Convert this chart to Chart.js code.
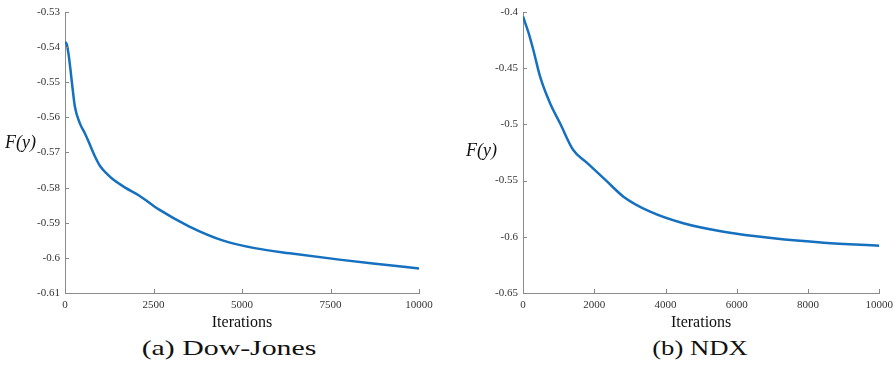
<!DOCTYPE html>
<html>
<head>
<meta charset="utf-8">
<script src="https://cdn.jsdelivr.net/npm/chart.js@4/dist/chart.umd.min.js"></script>
<style>
  html, body { margin: 0; padding: 0; background: #fff; }
  #wrap { position: relative; width: 895px; height: 370px; overflow: hidden; background: #fff; }
  canvas { position: absolute; top: 0; }
  .ylab { position: absolute; font-family: "Liberation Serif", serif; font-style: italic; font-size: 18px; color: #111; white-space: nowrap; transform: translateY(-50%); }
  .cap { position: absolute; font-family: "Liberation Serif", serif; font-size: 21px; color: #111; white-space: nowrap; }
</style>
</head>
<body>
<div id="wrap">
  <canvas id="c1" width="445" height="335" style="left:0px"></canvas>
  <canvas id="c2" width="454" height="335" style="left:445px"></canvas>
  <div class="ylab" style="left:5px; top:142px;">F(y)</div>
  <div class="ylab" style="left:466px; top:150px;">F(y)</div>
  <div class="cap" style="left:229px; top:348px; transform: translate(-50%, -50%) scaleX(1.42);">(a) Dow-Jones</div>
  <div class="cap" style="left:700px; top:348px; transform: translate(-50%, -50%) scaleX(1.27);">(b) NDX</div>
</div>
<script>
// ---- Data: (a) Dow-Jones ----
const djIterations = [0, 50, 100, 150, 200, 280, 420, 560, 650, 850, 1000, 1200, 1400, 1700, 2100, 2650, 3500, 4450, 5400, 6350, 7750, 8700, 10000];
const djValues = [-0.5385, -0.5392, -0.5420, -0.5460, -0.5505, -0.5570, -0.5617, -0.5645, -0.5665, -0.5712, -0.5740, -0.5762, -0.5780, -0.5800, -0.5823, -0.5862, -0.5910, -0.5950, -0.5973, -0.5987, -0.6005, -0.6016, -0.6030];
const djXTicks = [0, 2500, 5000, 7500, 10000];
const djYTicks = [-0.61, -0.6, -0.59, -0.58, -0.57, -0.56, -0.55, -0.54, -0.53];

// ---- Data: (b) NDX ----
const ndxIterations = [0, 150, 290, 480, 760, 1040, 1410, 1790, 2350, 2820, 3570, 4500, 5630, 7030, 8440, 10000];
const ndxValues = [-0.4040, -0.4180, -0.4338, -0.4575, -0.4812, -0.4990, -0.5228, -0.5340, -0.5505, -0.5643, -0.5777, -0.5880, -0.5955, -0.6013, -0.6052, -0.6079];
const ndxXTicks = [0, 2000, 4000, 6000, 8000, 10000];
const ndxYTicks = [-0.65, -0.6, -0.55, -0.5, -0.45, -0.4];

const xTitle = 'Iterations';
const lineColor = '#1570c0';
const axisColor = '#8a8a8a';
const tickFont = { family: '"Liberation Serif", serif', size: 11 };

const inwardTicks = {
  id: 'inwardTicks',
  afterDatasetsDraw(chart) {
    const ctx = chart.ctx;
    const xs = chart.scales.x, ys = chart.scales.y;
    ctx.save();
    ctx.strokeStyle = axisColor;
    ctx.lineWidth = 1;
    ctx.beginPath();
    xs.ticks.forEach(t => {
      const px = Math.round(xs.getPixelForValue(t.value)) + 0.5;
      ctx.moveTo(px, chart.chartArea.bottom);
      ctx.lineTo(px, chart.chartArea.bottom - 4);
    });
    ys.ticks.forEach(t => {
      const py = Math.round(ys.getPixelForValue(t.value)) + 0.5;
      ctx.moveTo(chart.chartArea.left, py);
      ctx.lineTo(chart.chartArea.left + 4, py);
    });
    ctx.stroke();
    ctx.restore();
  }
};

function makeChart(id, xsData, ysData, xTicks, yTicks, yWidth, rightPad) {
  const pts = xsData.map((x, i) => ({ x: x, y: ysData[i] }));
  return new Chart(document.getElementById(id), {
    type: 'line',
    data: { datasets: [{ data: pts, borderColor: lineColor, borderWidth: 2.5, pointRadius: 0, cubicInterpolationMode: 'monotone', fill: false }] },
    options: {
      responsive: false,
      animation: false,
      devicePixelRatio: 1,
      layout: { padding: { left: 0, right: rightPad, top: 12, bottom: 0 } },
      plugins: { legend: { display: false }, tooltip: { enabled: false } },
      scales: {
        x: {
          type: 'linear',
          min: xTicks[0], max: xTicks[xTicks.length - 1],
          afterBuildTicks: s => { s.ticks = xTicks.map(v => ({ value: v })); },
          afterFit: s => { s.height = 42; },
          grid: { display: true, drawOnChartArea: false, drawTicks: false },
          border: { display: true, color: axisColor, width: 1 },
          ticks: { font: tickFont, color: '#333', padding: 6, maxRotation: 0, callback: v => String(v) },
          title: { display: true, text: xTitle, color: '#111', font: { family: '"Liberation Serif", serif', size: 16 }, padding: { top: 0, bottom: 3 } }
        },
        y: {
          type: 'linear',
          min: yTicks[0], max: yTicks[yTicks.length - 1],
          afterBuildTicks: s => { s.ticks = yTicks.map(v => ({ value: v })); },
          afterFit: s => { s.width = yWidth; },
          grid: { display: true, drawOnChartArea: false, drawTicks: false },
          border: { display: true, color: axisColor, width: 1 },
          ticks: { font: tickFont, color: '#333', padding: 5, callback: v => String(v) }
        }
      }
    },
    plugins: [inwardTicks]
  });
}

makeChart('c1', djIterations, djValues, djXTicks, djYTicks, 65, 26);
makeChart('c2', ndxIterations, ndxValues, ndxXTicks, ndxYTicks, 78, 0);
</script>
</body>
</html>
